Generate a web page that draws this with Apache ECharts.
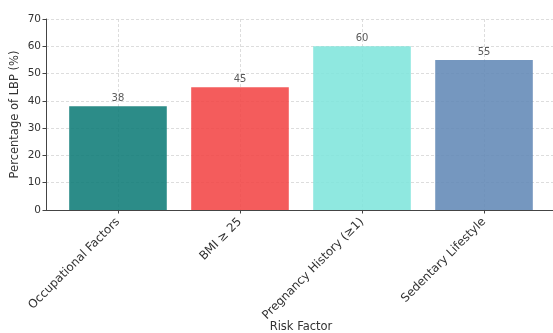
<!DOCTYPE html>
<html>
<head>
<meta charset="utf-8">
<script src="https://cdn.jsdelivr.net/npm/echarts@6/dist/echarts.min.js"></script>
<style>
  html, body { margin: 0; padding: 0; background: #fff; }
  #chart { width: 553px; height: 333px; }
</style>
</head>
<body>
<div id="chart"></div>
<script>
// Risk factors and the share of low back pain cases linked to each
const categories = ['Occupational Factors', 'BMI \u2265 25', 'Pregnancy History (\u22651)', 'Sedentary Lifestyle'];
const percentages = [38, 45, 60, 55];
const barColors = ['#0f7c78', '#f34546', '#80e5dc', '#6289b6'];
const yTicks = [0, 10, 20, 30, 40, 50, 60, 70];

const FONT = 'DejaVu Sans';
const positions = categories.map((_, i) => i);

const chart = echarts.init(document.getElementById('chart'), null, { renderer: 'canvas' });

const gridLine = { show: true, lineStyle: { color: '#d4d4d4', type: [3, 2], width: 0.8 } };

chart.setOption({
  animation: false,
  backgroundColor: '#ffffff',
  textStyle: { fontFamily: FONT },
  grid: {
    left: 46, right: -3, top: 19, bottom: 123,
    containLabel: false,
    outerBoundsMode: 'none'
  },
  xAxis: {
    type: 'value',
    min: -0.59,
    max: positions.length - 1 + 0.59,
    name: 'Risk Factor',
    nameLocation: 'middle',
    nameGap: 111,
    nameMoveOverlap: false,
    nameTextStyle: { fontFamily: FONT, fontSize: 11.5, color: '#333' },
    axisLine: { show: true, onZero: false, lineStyle: { color: '#444', width: 1 } },
    axisTick: { show: true, inside: false, length: 3.5, customValues: positions, lineStyle: { color: '#444' } },
    axisLabel: {
      customValues: positions,
      rotate: 45,
      margin: 10,
      fontFamily: FONT,
      fontSize: 11.8,
      color: '#333',
      formatter: (v) => categories[Math.round(v)] || ''
    },
    splitLine: gridLine
  },
  yAxis: {
    type: 'value',
    min: 0,
    max: 70,
    interval: 10,
    name: 'Percentage of LBP (%)',
    nameLocation: 'middle',
    nameGap: 25,
    nameMoveOverlap: false,
    nameRotate: 90,
    nameTextStyle: { fontFamily: FONT, fontSize: 11.5, color: '#333' },
    axisLine: { show: true, onZero: false, lineStyle: { color: '#444', width: 1 } },
    axisTick: { show: true, inside: false, length: 3.5, lineStyle: { color: '#444' } },
    axisLabel: {
      margin: 5,
      fontFamily: FONT,
      fontSize: 10.5,
      color: '#333',
      formatter: (v) => (yTicks.includes(v) ? String(v) : '')
    },
    splitLine: gridLine
  },
  series: [{
    type: 'bar',
    barWidth: '80%',
    data: percentages.map((v, i) => ({
      value: [positions[i], v],
      itemStyle: { color: barColors[i], opacity: 0.88 }
    })),
    label: {
      show: true,
      position: 'top',
      distance: 3,
      fontFamily: FONT,
      fontSize: 10,
      color: '#444',
      formatter: (p) => String(p.value[1])
    }
  }]
});
</script>
</body>
</html>
